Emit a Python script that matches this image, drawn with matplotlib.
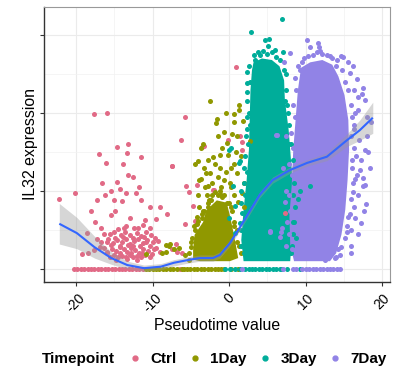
import matplotlib
matplotlib.use("Agg")
import matplotlib.pyplot as plt
from matplotlib.lines import Line2D

plt.rcParams['font.family'] = ['Liberation Sans', 'DejaVu Sans']

# colours per timepoint
groups = ["Ctrl", "1Day", "3Day", "7Day"]
colors = {"Ctrl": "#E16A86", "1Day": "#909800", "3Day": "#00AD9A", "7Day": "#9183E6"}

# cells with zero expression (x positions on the y=0 row)
ctrl_zero_x = [-20.3, -19.85, -19.4, -18.95, -18.5, -18.05, -17.6, -17.15, -16.7, -16.25,
               -15.8, -15.35, -14.9, -14.45, -14.0, -13.55, -13.1, -12.65, -12.2, -11.75,
               -11.3, -6.4]
day1_zero_x = [-10.9, -10.45, -10.0, -9.55, -9.1, -8.65, -8.2, -7.75, -7.3, -6.85, -6.1,
               -5.95, -5.5, -5.05, -4.6, -4.15, -3.7, -3.25, -2.8, -2.35, -1.9, -1.45,
               -1.0, -0.6, 0.3, 1.2]
day3_zero_x = [-0.5, 0.15, 0.8, 1.45, 2.1, 2.55, 3.0, 3.45, 3.9, 4.35, 4.8, 5.25, 5.7,
               6.15, 6.6, 6.9, 7.6, 9.3]
day7_zero_x = [1.7, 7.0, 8.4, 8.8, 9.6, 10.05, 10.5, 10.95, 11.4, 11.85, 12.3, 12.75,
               13.2, 13.65, 14.1, 14.5]

# expressing cells
ctrl_x = [-17.6, -16.0, -14.7, -13.2, -17.0, -13.3, -11.5, -16.1, -13.9, -13.2, -16.6,
          -20.2, -22.2, -14.3, -15.5, -16.2, -13.5, -12.2, -17.3, -15.0, -14.0, -11.5,
          -9.0, -18.0, -15.4, -8.1, -9.5, -17.5, -7.4, -19.2, -18.4,
          0.9, -5.7, -6.3, -7.4, -3.6, -3.3, -5.6, -5.2, -4.2, -4.7, -5.8, -4.5, -2.1,
          1.4, 1.7, 1.7, -0.1, -2.0, 7.3,
          -13.5, -12.4, -11.2, -10.4, -14.5,
          -16.3, -15.1, -14.1, -13.6, -12.9, -12.1, -11.5, -10.8, -10.2,
          -16.8, -15.8, -15.2, -14.6, -14.0, -13.5, -13.0, -12.4, -11.9, -11.3, -10.7,
          -10.0, -9.3,
          -17.6, -16.4, -15.9, -15.3, -14.8, -14.3, -13.8, -13.3, -12.8, -12.3, -11.8,
          -11.2, -10.6, -9.8, -9.0,
          -15.6, -15.0, -14.5, -14.0, -13.5, -13.0, -12.5, -12.0, -11.5, -11.0, -10.4,
          -7.5, -6.8, -6.1, -7.0,
          -15.4, -14.2, -13.2, -12.6, -11.6, -10.3, -14.9, -13.9, -12.6, -11.1, -9.7,
          -16.0, -14.2, -12.8, -11.4, -10.1, -13.8, -11.9, -16.9, -15.6, -9.5, -12.0,
          -13.3, -14.8, -10.8, -15.9, -17.3, -18.6, -16.7, -11.0, -12.9, -14.9, -10.3,
          -12.5, -14.6, -11.8]
ctrl_y = [1.99, 2.0, 1.57, 1.60, 1.47, 1.49, 1.43, 1.36, 1.34, 1.21, 1.10,
          0.98, 0.90, 1.02, 1.0, 0.95, 0.98, 0.98, 0.88, 0.89, 0.87, 0.88,
          0.79, 0.74, 0.69, 0.70, 0.64, 0.60, 1.32, 0.19, 0.20,
          2.59, 1.95, 1.66, 1.32, 1.56, 1.58, 1.06, 0.99, 1.08, 0.81, 0.58, 0.62, 1.01,
          1.71, 1.63, 1.53, 1.65, 1.01, 0.72,
          0.55, 0.52, 0.57, 0.53, 0.51,
          0.45, 0.47, 0.43, 0.48, 0.44, 0.46, 0.42, 0.47, 0.43,
          0.35, 0.38, 0.33, 0.37, 0.34, 0.39, 0.32, 0.36, 0.38, 0.33, 0.37,
          0.34, 0.36,
          0.24, 0.27, 0.22, 0.26, 0.23, 0.28, 0.25, 0.22, 0.27, 0.24, 0.21,
          0.26, 0.23, 0.25, 0.22,
          0.16, 0.18, 0.15, 0.17, 0.16, 0.18, 0.15, 0.17, 0.16, 0.18, 0.15,
          0.25, 0.22, 0.20, 0.32,
          0.31, 0.30, 0.31, 0.29, 0.30, 0.29, 0.40, 0.41, 0.40, 0.41, 0.40,
          0.20, 0.21, 0.20, 0.20, 0.19, 0.52, 0.53, 0.28, 0.45, 0.27, 0.12,
          0.13, 0.12, 0.34, 0.35, 0.38, 0.46, 0.52, 0.63, 0.66, 0.74, 0.80,
          1.18, 1.12, 1.05]

day1_x = [-2.5, 1.3, 1.3, 0.6, -1.6, -1.7, 0.6, -0.7, 0.4, 2.7, -3.4, -3.7, -2.1,
          -1.2, -0.2, -4.0, -4.4, 0.6, -1.2, -2.5, -3.0, 1.0, -3.7, -0.7, 0.1, 2.0,
          -2.7, -1.8, -1.0, 0.6, 1.7, -2.6, -0.3, 1.2, -3.9, -3.4, -1.8, -4.2,
          -10.9, -8.8, -8.3, -7.8, -8.2, -7.7, -7.2, -6.5, -5.7, -3.9,
          -5.2, -5.0, -4.6, -4.0, -3.6, -2.8, -2.2, -1.2, -0.6, 0.2, 0.6, 1.0, 1.3,
          -3.2, -2.2, -1.5, -0.4, 0.3, -1.9, -2.8, -0.9, 0.9, -0.3, 1.6, -1.4, -2.9,
          -4.1, 1.9, -1.0, 0.3, -3.3, 1.0, 1.8, -0.4,
          -5.2, -5.0, -4.9, -4.5, -4.2, -3.6, -3.3, -2.7, -2.3, -1.4, -0.9, 0.0, 0.4,
          0.7, 1.1, 1.5]
day1_y = [2.15, 2.10, 2.04, 1.99, 1.92, 1.87, 1.89, 1.76, 1.73, 1.64, 1.60, 1.55, 1.43,
          1.46, 1.46, 1.38, 1.35, 1.35, 1.29, 1.23, 1.23, 1.23, 1.15, 1.14, 1.10, 1.10,
          1.06, 0.99, 0.95, 0.95, 0.97, 0.88, 0.84, 0.86, 0.80, 0.74, 0.76, 0.67,
          0.19, 0.20, 0.22, 0.30, 0.31, 0.32, 0.26, 0.27, 0.18, 1.14,
          0.20, 0.35, 0.55, 0.62, 0.70, 0.85, 0.95, 1.00, 0.95, 0.80, 0.60, 0.50, 0.30,
          1.05, 1.10, 1.18, 1.25, 1.30, 1.35, 1.40, 1.55, 1.50, 1.62, 1.45, 1.70, 0.95,
          0.95, 0.80, 1.05, 1.05, 1.30, 1.70, 1.90, 2.00,
          0.12, 0.28, 0.40, 0.50, 0.58, 0.66, 0.75, 0.80, 0.88, 0.95, 0.92, 0.85, 0.75,
          0.55, 0.35, 0.20]

day3_x = [2.3, 2.4, 2.4, 2.4, 2.2, 2.0, 1.6, 1.7, 1.4, 0.8, 0.5, 0.0, 1.3, 0.0, 0.8,
          2.7, 0.2, 1.4, 2.9, 6.9, 4.7, 5.2, 5.1, 6.0, 7.0, 3.4, 4.0, 3.6,
          7.4, 7.6, 7.8, 8.1, 8.4, 9.0, 9.3, 10.6, 8.5, 8.2, 7.8, 8.8,
          1.9, 1.6, 1.5, 1.9, 1.6, 2.1, 2.0, 2.4, 2.1, 2.5, 2.3, 2.6, 2.4, 2.7, 2.6,
          3.2, 3.8, 4.5, 5.0, 5.6, 6.2, 6.6,
          7.2, 7.5, 7.3, 7.7, 7.9, 8.1, 8.3, 8.5, 8.6, 8.4, 8.3, 8.1]
day3_y = [2.27, 2.53, 2.38, 1.95, 1.70, 1.30, 1.00, 0.72, 0.59, 0.81, 1.07, 1.53, 1.36,
          0.65, 0.46, 1.85, 1.55, 1.38, 3.04, 3.20, 2.94, 2.95, 2.86, 2.81, 2.78, 2.68,
          2.75, 2.62,
          2.50, 2.10, 1.60, 1.20, 0.95, 0.90, 1.00, 1.06, 0.60, 0.30, 0.20, 0.40,
          0.20, 0.30, 0.50, 0.60, 0.85, 0.95, 1.10, 1.25, 1.45, 1.60, 1.80, 2.00, 2.15,
          2.40, 2.60,
          2.75, 2.78, 2.80, 2.76, 2.78, 2.72, 2.68,
          2.55, 2.30, 2.15, 2.00, 1.85, 1.60, 1.40, 1.10, 0.80, 0.60, 0.45, 0.20]

day7_x = [10.2, 11.6, 11.7, 10.6, 11.9, 8.0, 13.2, 14.7, 14.1, 9.5, 9.3, 14.9, 15.8,
          16.7, 17.5, 17.4, 17.8, 16.9, 18.6, 18.0, 17.8, 17.1, 17.5, 17.8, 18.2, 18.4,
          17.5, 16.5, 17.9, 17.3, 15.4, 16.2, 15.6, 14.5, 14.3, 16.3, 16.5, 16.1, 16.4,
          15.9, 13.8, 12.5, 9.0, 7.5,
          6.2, 7.5, 6.3, 5.4, 6.9, 6.7, 7.3, 5.3, 6.8, 7.2, 7.0, 7.4,
          9.0, 8.6, 8.8, 8.3, 8.6, 8.1, 8.3, 7.9, 8.2, 7.8, 8.0, 7.6, 7.9, 8.2, 8.8,
          9.8, 10.3, 11.0, 11.5, 12.2, 12.8, 13.4, 14.0,
          14.8, 15.2, 15.6, 15.9, 16.1, 16.0, 16.3, 16.1, 16.2, 15.9, 15.8, 15.4, 15.1,
          14.7, 14.0,
          16.2, 16.8, 16.4, 17.0, 16.6, 17.2, 16.7, 16.9, 16.5, 16.8, 16.0, 15.9, 17.6,
          18.0, 16.4, 15.5]
day7_y = [2.94, 2.90, 2.85, 2.85, 2.80, 2.77, 2.73, 2.73, 2.68, 2.65, 2.55, 2.72, 2.51,
          2.44, 2.32, 2.25, 2.17, 2.04, 1.89, 1.95, 1.53, 1.27, 1.17, 1.08, 1.50, 1.29,
          1.06, 1.15, 0.83, 0.59, 0.47, 0.99, 0.67, 0.18, 0.25, 1.80, 2.00, 1.40, 0.80,
          0.30, 0.14, 0.12, 0.14, 0.30,
          1.72, 1.70, 1.72, 0.49, 0.53, 0.41, 0.86, 0.48, 0.47, 2.65, 1.30, 1.00,
          2.60, 2.45, 2.30, 2.10, 1.95, 1.75, 1.55, 1.35, 1.20, 0.95, 0.75, 0.60, 0.45,
          0.25, 0.15,
          2.70, 2.73, 2.75, 2.78, 2.76, 2.74, 2.70, 2.60,
          2.55, 2.40, 2.30, 2.10, 1.95, 1.70, 1.55, 1.30, 1.10, 0.90, 0.70, 0.55, 0.40,
          0.28, 0.15,
          2.60, 2.20, 1.85, 1.65, 1.45, 1.40, 1.20, 0.95, 0.65, 0.45, 0.50, 0.20, 0.75,
          1.70, 2.30, 2.65]

# outlines of the regions where points overlap into a solid mass
day1_core_x = [-4.7, -4.7, -4.5, -3.4, -3.0, -1.6, -0.3, 0.2, 0.7, 1.2, 0.1, -3.8]
day1_core_y = [0.12, 0.24, 0.44, 0.60, 0.75, 0.88, 0.85, 0.65, 0.41, 0.14, 0.10, 0.10]
day3_core_x = [3.2, 4.3, 5.6, 6.6, 7.2, 7.3, 7.8, 8.2, 8.4, 8.3, 8.0, 1.9, 1.6, 1.9,
               2.3, 2.6, 2.7, 2.8, 3.0]
day3_core_y = [2.65, 2.70, 2.68, 2.60, 2.42, 2.17, 1.78, 1.27, 0.88, 0.50, 0.10, 0.10,
               0.37, 0.76, 1.14, 1.53, 1.91, 2.29, 2.55]
day7_core_x = [9.4, 10.6, 12.2, 13.5, 14.3, 15.1, 15.6, 15.7, 15.5, 15.2, 14.7, 14.0,
               13.2, 8.5, 8.0, 7.9, 8.2, 8.4, 8.7, 9.0, 9.3]
day7_core_y = [2.58, 2.65, 2.68, 2.62, 2.47, 2.23, 1.91, 1.53, 1.14, 0.76, 0.44, 0.20,
               0.10, 0.10, 0.31, 0.69, 1.08, 1.53, 1.91, 2.29, 2.50]

# loess fit with its standard error
smooth_x = [-22.2, -19.9, -17.6, -15.4, -13.3, -11.1, -8.9, -7.2, -5.1, -3.8, -2.1, -1.2,
            0.1, 1.4, 2.7, 4.0, 5.7, 8.0, 10.2, 12.8, 15.4, 17.1, 18.8]
smooth_y = [0.58, 0.46, 0.28, 0.14, 0.05, 0.01, 0.03, 0.08, 0.12, 0.14, 0.14, 0.18,
            0.33, 0.53, 0.74, 0.95, 1.14, 1.27, 1.36, 1.44, 1.65, 1.78, 1.94]
smooth_se = [0.26, 0.20, 0.14, 0.08, 0.05, 0.04, 0.04, 0.04, 0.04, 0.04, 0.04, 0.04,
             0.04, 0.04, 0.04, 0.04, 0.04, 0.04, 0.04, 0.05, 0.08, 0.13, 0.20]

x_ticks = [-20, -10, 0, 10, 20]
y_ticks = [0, 1, 2, 3]

fig = plt.figure(figsize=(3.96, 3.72), dpi=100)
ax = fig.add_axes([44 / 396, 1 - 282 / 372, 346 / 396, 275 / 372])

zero_x = {"Ctrl": ctrl_zero_x, "1Day": day1_zero_x, "3Day": day3_zero_x, "7Day": day7_zero_x}
pts = {"Ctrl": (ctrl_x, ctrl_y), "1Day": (day1_x, day1_y),
       "3Day": (day3_x, day3_y), "7Day": (day7_x, day7_y)}
cores = {"1Day": (day1_core_x, day1_core_y), "3Day": (day3_core_x, day3_core_y),
         "7Day": (day7_core_x, day7_core_y)}

ms = 13
for g in groups:
    ax.scatter(zero_x[g], [0] * len(zero_x[g]), s=ms, color=colors[g], linewidths=0, zorder=2)
for g in ["1Day", "3Day", "7Day"]:
    cx, cy = cores[g]
    ax.fill(cx, cy, color=colors[g], linewidth=0, zorder=2)
for g in groups:
    x, y = pts[g]
    ax.scatter(x, y, s=ms, color=colors[g], linewidths=0, zorder=3)

lo = [m - s for m, s in zip(smooth_y, smooth_se)]
hi = [m + s for m, s in zip(smooth_y, smooth_se)]
ax.fill_between(smooth_x, lo, hi, color="#999999", alpha=0.4, linewidth=0, zorder=4)
ax.plot(smooth_x, smooth_y, color="#3366FF", lw=1.5, zorder=5, solid_capstyle="butt")

ax.set_xlim(-24.2, 21.05)
ax.set_ylim(-0.167, 3.36)
ax.set_xticks(x_ticks)
ax.set_xticklabels([str(v) for v in x_ticks], rotation=45, ha="center", va="top",
                   fontsize=10, color="#000000")
ax.set_yticks(y_ticks)
ax.set_yticklabels([])
ax.set_xticks([-15, -5, 5, 15], minor=True)
ax.set_yticks([0.5, 1.5, 2.5], minor=True)
ax.tick_params(axis="both", which="major", length=3, width=0.8, color="#333333")
ax.tick_params(axis="both", which="minor", length=0)
ax.grid(True, which="major", color="#EBEBEB", lw=0.8, zorder=0)
ax.grid(True, which="minor", color="#F2F2F2", lw=0.5, zorder=0)
ax.set_axisbelow(True)
for side in ["top", "right"]:
    ax.spines[side].set_color("#999999")
    ax.spines[side].set_linewidth(0.8)
for side in ["left", "bottom"]:
    ax.spines[side].set_color("#333333")
    ax.spines[side].set_linewidth(1.0)

ax.set_xlabel("Pseudotime value", fontsize=11.4, labelpad=2)
ax.set_ylabel("IL32 expression", fontsize=11.4, labelpad=-2)

handles = [Line2D([], [], marker="o", ls="", color=colors[g], markersize=3.5) for g in groups]
fig.legend(handles, groups, ncol=4, frameon=False, loc="center left",
           bbox_to_anchor=(129 / 396, 1 - 359 / 372), borderaxespad=0, borderpad=0,
           handlelength=0.8, handletextpad=0.6, columnspacing=0.8,
           prop={"weight": "bold", "size": 11})
fig.text(42 / 396, 1 - 359 / 372, "Timepoint", fontsize=11, fontweight="bold",
         ha="left", va="center")

fig.savefig("out.png", dpi=100)
